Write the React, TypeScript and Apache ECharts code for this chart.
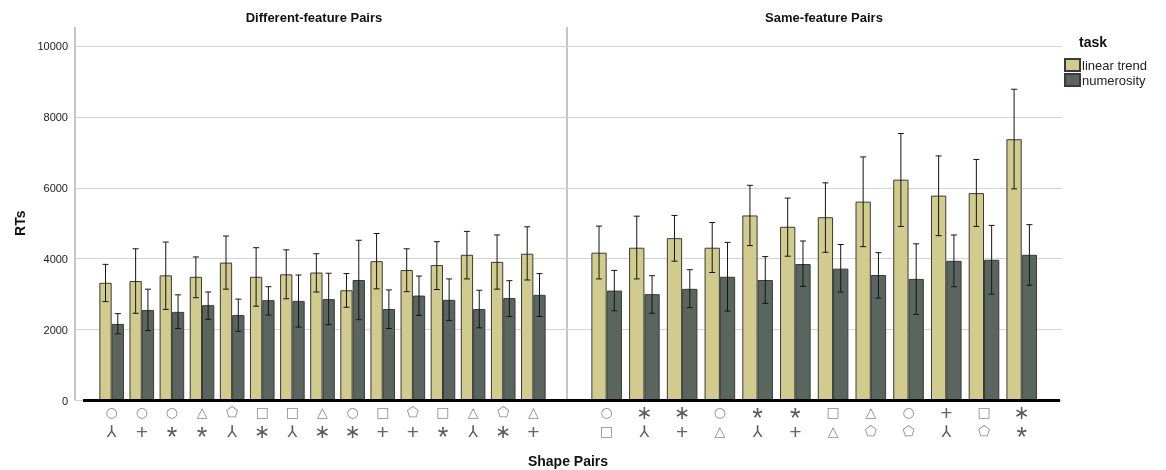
import React, { useEffect, useRef } from "react";
import * as echarts from "echarts";

const CIRCLE = "○";
const TRI = "△";
const SQUARE = "□";
const PENT = "⬠";
const TRIPOD = "⅄";
const PLUS = "+";
const STAR5 = "*";
const STAR6 = "∗";

// Shape pairs (upper glyph, lower glyph) per panel
const diffTop = [CIRCLE, CIRCLE, CIRCLE, TRI, PENT, SQUARE, SQUARE, TRI, CIRCLE, SQUARE, PENT, SQUARE, TRI, PENT, TRI];
const diffBottom = [TRIPOD, PLUS, STAR5, STAR5, TRIPOD, STAR6, TRIPOD, STAR6, STAR6, PLUS, PLUS, STAR5, TRIPOD, STAR6, PLUS];
const sameTop = [CIRCLE, STAR6, STAR6, CIRCLE, STAR5, STAR5, SQUARE, TRI, CIRCLE, PLUS, SQUARE, STAR6];
const sameBottom = [SQUARE, TRIPOD, PLUS, TRI, TRIPOD, PLUS, TRI, PENT, PENT, TRIPOD, PENT, STAR5];

// Mean RTs and error bar bounds, different-feature pairs
const diffLinear = [3320, 3370, 3530, 3490, 3890, 3490, 3560, 3610, 3110, 3930, 3680, 3820, 4110, 3910, 4140];
const diffLinearLo = [2790, 2460, 2570, 2900, 3140, 2660, 2870, 3060, 2630, 3150, 3070, 3130, 3430, 3140, 3400];
const diffLinearHi = [3840, 4280, 4470, 4050, 4640, 4310, 4250, 4140, 3580, 4710, 4280, 4480, 4770, 4670, 4900];
const diffNum = [2160, 2550, 2500, 2690, 2410, 2830, 2810, 2860, 3400, 2580, 2960, 2840, 2580, 2890, 2980];
const diffNumLo = [1880, 1970, 2030, 2290, 1950, 2410, 2070, 2140, 2280, 2030, 2400, 2260, 2050, 2370, 2370];
const diffNumHi = [2450, 3140, 2980, 3060, 2860, 3210, 3540, 3590, 4520, 3120, 3510, 3430, 3110, 3380, 3580];

// Mean RTs and error bar bounds, same-feature pairs
const sameLinear = [4170, 4310, 4580, 4310, 5220, 4900, 5170, 5610, 6230, 5780, 5850, 7370];
const sameLinearLo = [3430, 3430, 3930, 3610, 4370, 4070, 4180, 4340, 4910, 4650, 4910, 5970];
const sameLinearHi = [4920, 5200, 5220, 5020, 6070, 5710, 6140, 6870, 7530, 6900, 6800, 8780];
const sameNum = [3100, 3000, 3150, 3490, 3400, 3850, 3720, 3540, 3430, 3940, 3970, 4110];
const sameNumLo = [2530, 2460, 2620, 2520, 2740, 3220, 3060, 2890, 2430, 3210, 3000, 3250];
const sameNumHi = [3670, 3520, 3690, 4460, 4060, 4500, 4400, 4170, 4420, 4670, 4940, 4960];

const yTicks = [0, 2000, 4000, 6000, 8000, 10000];

const LINEAR_COLOR = "#d2cb8e";
const NUM_COLOR = "#5b6560";
const BORDER = "#3a3a3a";
const FONT = '"Liberation Sans", Arial, sans-serif';

const W = 1166;
const H = 470;
const PLOT_TOP = 46;
const BASE_Y = 400.5;
const FRAME_TOP = 27;
const FRAME_LEFT = 75;
const FRAME_DIV = 567;
const FRAME_RIGHT = 1062;

function errorSeries(gridIdx: number, lo: number[], hi: number[], offset: number) {
  return {
    type: "custom",
    xAxisIndex: gridIdx,
    yAxisIndex: gridIdx,
    z: 5,
    silent: true,
    data: lo.map((l, i) => [i, l, hi[i]]),
    encode: { x: 0, y: [1, 2] },
    renderItem: (_params: any, api: any) => {
      const i = api.value(0);
      const pLo = api.coord([i, api.value(1)]);
      const pHi = api.coord([i, api.value(2)]);
      const x = pLo[0] + offset;
      const cap = 3;
      const style = { stroke: "#151515", lineWidth: 1 };
      return {
        type: "group",
        children: [
          { type: "line", shape: { x1: x, y1: pHi[1], x2: x, y2: pLo[1] }, style },
          { type: "line", shape: { x1: x - cap, y1: pHi[1], x2: x + cap, y2: pHi[1] }, style },
          { type: "line", shape: { x1: x - cap, y1: pLo[1], x2: x + cap, y2: pLo[1] }, style },
        ],
      };
    },
  };
}

function barSeries(name: string, gridIdx: number, data: number[], color: string, width: number) {
  return {
    name,
    type: "bar",
    xAxisIndex: gridIdx,
    yAxisIndex: gridIdx,
    data,
    barWidth: width,
    barGap: "0%",
    itemStyle: { color, borderColor: BORDER, borderWidth: 1 },
  };
}

// Rich-text style name for each glyph
function glyphStyle(ch: string) {
  if (ch === PLUS) return "plus";
  if (ch === STAR5) return "star5";
  if (ch === STAR6) return "star6";
  if (ch === TRIPOD) return "tripod";
  return "shape";
}

const LINE_H = 19;
const glyphRich = {
  shape: { fontFamily: '"DejaVu Sans"', fontSize: 14, color: "#8a8a8a", lineHeight: LINE_H },
  tripod: { fontFamily: '"DejaVu Sans"', fontSize: 16, color: "#5a5a5a", lineHeight: LINE_H },
  star6: { fontFamily: '"DejaVu Sans"', fontSize: 19, color: "#5a5a5a", lineHeight: LINE_H },
  plus: { fontFamily: '"Liberation Sans"', fontSize: 21, color: "#666", lineHeight: LINE_H },
  star5: { fontFamily: '"Liberation Sans"', fontSize: 27, color: "#5a5a5a", lineHeight: LINE_H, padding: [11, 0, 0, 0] },
};

function shapeAxis(gridIdx: number, top: string[], bottom: string[]) {
  return {
    type: "category",
    gridIndex: gridIdx,
    data: top.map((t, i) => `${t}\n${bottom[i]}`),
    axisLine: { show: false },
    axisTick: { show: false },
    axisLabel: {
      interval: 0,
      margin: 2,
      lineHeight: LINE_H,
      formatter: (value: string) =>
        value
          .split("\n")
          .map((ch) => `{${glyphStyle(ch)}|${ch}}`)
          .join("\n"),
      rich: glyphRich,
    },
  };
}

export default function App() {
  const ref = useRef<HTMLDivElement>(null);

  useEffect(() => {
    if (!ref.current) return;
    const chart = echarts.init(ref.current, undefined, { renderer: "svg" });
    const gridBottom = H - BASE_Y;
    const leftBarW = 12.3;
    const rightBarW = 15.3;

    const centered = { textAlign: "center", textVerticalAlign: "middle", align: "center", verticalAlign: "middle" };

    chart.setOption({
      animation: false,
      textStyle: { fontFamily: FONT },
      grid: [
        { left: FRAME_LEFT, right: W - FRAME_RIGHT, top: PLOT_TOP, bottom: gridBottom },
        { left: 96.6, width: 451.8, top: PLOT_TOP, bottom: gridBottom },
        { left: 587.8, width: 452.8, top: PLOT_TOP, bottom: gridBottom },
      ],
      xAxis: [
        { type: "value", gridIndex: 0, min: 0, max: 1, show: false },
        shapeAxis(1, diffTop, diffBottom),
        shapeAxis(2, sameTop, sameBottom),
      ],
      yAxis: [
        {
          type: "value",
          gridIndex: 0,
          min: yTicks[0],
          max: yTicks[yTicks.length - 1],
          interval: 2000,
          name: "RTs",
          nameLocation: "middle",
          nameGap: 48,
          nameTextStyle: { fontWeight: "bold", fontSize: 14, color: "#111", fontFamily: FONT },
          axisLine: { show: false },
          axisTick: { show: false },
          axisLabel: { margin: 7, fontSize: 11, color: "#222", fontFamily: FONT, formatter: (v: number) => String(v) },
          splitLine: { lineStyle: { color: "#d4d4d4", width: 1 } },
        },
        { type: "value", gridIndex: 1, min: 0, max: 10000, show: false },
        { type: "value", gridIndex: 2, min: 0, max: 10000, show: false },
      ],
      legend: {
        data: ["linear trend", "numerosity"],
        orient: "vertical",
        left: 1064,
        top: 58,
        padding: 0,
        itemWidth: 15,
        itemHeight: 12,
        itemGap: 1,
        icon: "rect",
        textStyle: { fontSize: 13, color: "#222", fontFamily: FONT, padding: [0, 0, 0, -3] },
      },
      graphic: [
        { type: "line", shape: { x1: FRAME_LEFT, y1: FRAME_TOP, x2: FRAME_LEFT, y2: BASE_Y }, style: { stroke: "#8c8c8c", lineWidth: 1 } },
        { type: "line", shape: { x1: FRAME_DIV, y1: FRAME_TOP, x2: FRAME_DIV, y2: BASE_Y }, style: { stroke: "#8c8c8c", lineWidth: 1 } },
        { type: "line", shape: { x1: FRAME_LEFT, y1: BASE_Y, x2: 83, y2: BASE_Y }, style: { stroke: "#8c8c8c", lineWidth: 1 } },
        { type: "line", z: 10, shape: { x1: 83, y1: BASE_Y, x2: 1060, y2: BASE_Y }, style: { stroke: "#000", lineWidth: 3 } },
        { type: "text", x: 314, y: 17, style: { text: "Different-feature Pairs", font: `bold 13px ${FONT}`, fill: "#111", ...centered } },
        { type: "text", x: 824, y: 17, style: { text: "Same-feature Pairs", font: `bold 13px ${FONT}`, fill: "#111", ...centered } },
        { type: "text", x: 568, y: 461, style: { text: "Shape Pairs", font: `bold 14px ${FONT}`, fill: "#111", ...centered } },
        { type: "text", x: 1093, y: 42, style: { text: "task", font: `bold 14px ${FONT}`, fill: "#111", ...centered } },
      ],
      series: [
        barSeries("linear trend", 1, diffLinear, LINEAR_COLOR, leftBarW),
        barSeries("numerosity", 1, diffNum, NUM_COLOR, leftBarW),
        barSeries("linear trend", 2, sameLinear, LINEAR_COLOR, rightBarW),
        barSeries("numerosity", 2, sameNum, NUM_COLOR, rightBarW),
        errorSeries(1, diffLinearLo, diffLinearHi, -leftBarW / 2),
        errorSeries(1, diffNumLo, diffNumHi, leftBarW / 2),
        errorSeries(2, sameLinearLo, sameLinearHi, -rightBarW / 2),
        errorSeries(2, sameNumLo, sameNumHi, rightBarW / 2),
      ],
    });

    return () => chart.dispose();
  }, []);

  return <div ref={ref} style={{ position: "fixed", left: 0, top: 0, width: W, height: H }} />;
}
